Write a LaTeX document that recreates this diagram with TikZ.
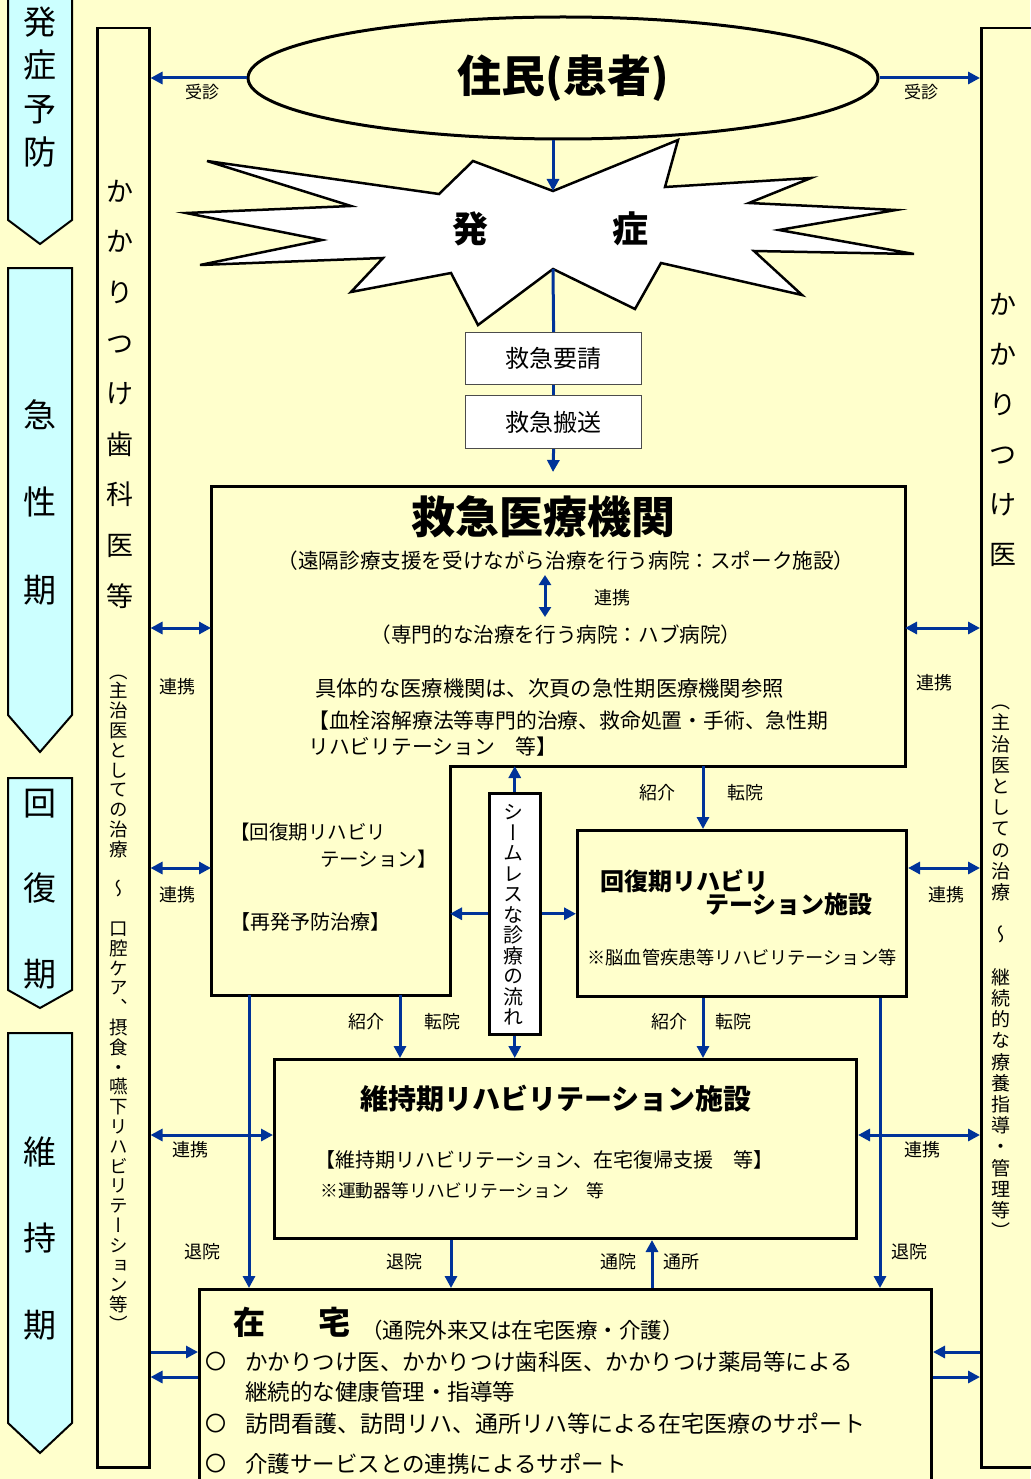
\documentclass[tikz,border=0pt]{standalone}
\usepackage{fontspec}
\setmainfont{Noto Sans CJK JP}
\newfontfamily\jpv[RawFeature=+vert]{Noto Sans CJK JP}
\usetikzlibrary{arrows.meta,shapes.geometric}
\definecolor{bg}{RGB}{255,255,204}
\definecolor{cyanf}{RGB}{204,255,255}
\definecolor{ablue}{RGB}{0,51,153}
\ExplSyntaxOn
\NewDocumentCommand\vstack{mm}{
  \vbox{\baselineskip=#1\relax\lineskiplimit=-\maxdimen\lineskip=0pt
    \tl_map_inline:nn{#2}{\hbox_to_wd:nn{1em}{\hss##1\hss}}}
}
\ExplSyntaxOff
\newcommand\fsz[1]{\fontsize{#1}{1.3\dimexpr#1pt\relax}\selectfont}
\tikzset{
  box/.style={draw=black, line width=3pt, fill=bg, anchor=north west, inner sep=0pt},
  colbox/.style={draw=black, line width=2.5pt, fill=bg, anchor=north west, inner sep=0pt},
  wbox/.style={draw=black!70, line width=1.2pt, fill=white, anchor=north west, inner sep=0pt},
  phasearrow/.style={draw=black, line width=2pt, fill=cyanf},
  arr/.style={draw=ablue, line width=3pt, -{Triangle[length=12pt,width=12pt]}},
  darr/.style={draw=ablue, line width=3pt, {Triangle[length=12pt,width=12pt]}-{Triangle[length=12pt,width=12pt]}},
  lbl/.style={font=\fsz{18}, inner sep=0pt},
  txt/.style={inner sep=0pt, anchor=west, align=left},
  ctxt/.style={inner sep=0pt, anchor=center},
}
\begin{document}
\begin{tikzpicture}[x=1pt,y=-1pt]
\fill[bg] (0,0) rectangle (1030,1479);
\useasboundingbox (0,0) rectangle (1030,1479);

% phase arrows
\draw[phasearrow] (8,-10) -- (72,-10) -- (72,220) -- (40,244) -- (8,220) -- cycle;
\draw[phasearrow] (8,268) -- (72,268) -- (72,715) -- (40,752) -- (8,715) -- cycle;
\draw[phasearrow] (8,778) -- (72,778) -- (72,990) -- (40,1008) -- (8,990) -- cycle;
\draw[phasearrow] (8,1033) -- (72,1033) -- (72,1423) -- (40,1453) -- (8,1423) -- cycle;
\node[ctxt, font=\fsz{33}] (ph1) at (40,87) {\vstack{43.5pt}{発症予防}};
\node[ctxt, font=\fsz{33}] (ph2) at (40,502) {\vstack{87.5pt}{急性期}};
\node[ctxt, font=\fsz{33}] (ph3) at (40,889) {\vstack{85.5pt}{回復期}};
\node[ctxt, font=\fsz{33}] (ph4) at (40,1238) {\vstack{86.5pt}{維持期}};

% side columns
\node[colbox, minimum width=52pt, minimum height=1439pt] (lcol) at (96,27) {};
\node[colbox, minimum width=70pt, minimum height=1439pt] (rcol) at (980,27) {};
\node[ctxt, font=\fsz{27}] (lcolt1) at (120,394) {\vstack{50.6pt}{かかりつけ歯科医等}};
\node[ctxt, font=\fsz{18.5}\jpv] (lcolt2) at (119,1003) {\vstack{19.8pt}{（主治医としての治療　～　口腔ケア、摂食・嚥下リハビリテーション等）}};
\node[ctxt, font=\fsz{27}] (rcolt1) at (1003,430) {\vstack{50pt}{かかりつけ医}};
\node[ctxt, font=\fsz{19}\jpv] (rcolt2) at (1001,972) {\vstack{21.2pt}{（主治医としての治療　～　継続的な療養指導・管理等）}};

% residents
\node[ellipse, draw=black, line width=3pt, fill=bg, minimum width=630pt, minimum height=122pt, inner sep=0pt, font=\fsz{44}\bfseries] (jumin) at (563,78) {住民(患者)};

% starburst
\coordinate (S4) at (553,191);
\coordinate (S16) at (553,269);
\draw[black, line width=2.5pt, fill=white, line join=miter]
  (207,161) -- (439,194) -- (473,161) -- (S4) -- (678,140) -- (665,187) -- (811,178) -- (749,203) -- (896,210) -- (779,230) -- (914,254) -- (754,251) -- (802,295) -- (661,263) -- (635,309) -- (S16) -- (478,325) -- (451,273) -- (351,292) -- (383,258) -- (200,265) -- (322,240) -- (186,213) -- (351,206) -- cycle;
\node[ctxt, font=\fsz{36}\bfseries] (ha) at (470,229) {発};
\node[ctxt, font=\fsz{36}\bfseries] (sho) at (630,229) {症};

% emergency request boxes
\node[wbox, minimum width=176pt, minimum height=52pt] (q1) at (465,332) {};
\node[ctxt, font=\fsz{24}] (q1t) at (q1.center) {救急要請};
\node[wbox, minimum width=176pt, minimum height=53pt] (q2) at (465,395) {};
\node[ctxt, font=\fsz{24}] (q2t) at (q2.center) {救急搬送};
\coordinate (kq) at (553,472);

% emergency institution polygon
\coordinate (E1) at (211,486);
\coordinate (E2) at (905,486);
\coordinate (E3) at (905,766);
\coordinate (E4) at (450,766);
\coordinate (E5) at (450,995);
\coordinate (E6) at (211,995);
\draw[black, line width=3pt, fill=bg] (E1) -- (E2) -- (E3) -- (E4) -- (E5) -- (E6) -- cycle;
\node[ctxt, font=\fsz{44}\bfseries] (kyu) at (543,517) {救急医療機関};
\node[ctxt, font=\fsz{20.6}] (spoke) at (566,561) {（遠隔診療支援を受けながら治療を行う病院：スポーク施設）};
\node[ctxt, font=\fsz{20.6}] (hub) at (556,635) {（専門的な治療を行う病院：ハブ病院）};
\node[txt, font=\fsz{21.3}] (gutai) at (315,688) {具体的な医療機関は、次頁の急性期医療機関参照};
\node[txt, font=\fontsize{20.8}{26}\selectfont] (kessen) at (308,734) {【血栓溶解療法等専門的治療、救命処置・手術、急性期\\リハビリテーション　等】};
\node[txt, font=\fontsize{19.5}{27}\selectfont] (kaifukuL) at (230,846) {【回復期リハビリ\\\hspace*{90pt}テーション】};
\node[txt, font=\fsz{20}] (saihatsu) at (230,922) {【再発予防治療】};
\coordinate (sp1) at (545,575);
\coordinate (sp2) at (545,617);
\node[lbl] (renkei0) at (612,598) {連携};

% recovery facility
\node[box, minimum width=329pt, minimum height=166pt] (rec) at (576,829) {};
\node[txt, font=\fontsize{24}{23}\selectfont\bfseries] (rect) at (600,893) {回復期リハビリ\\\hspace*{105pt}テーション施設};
\node[ctxt, font=\fsz{18.2}] (recs) at (742,958) {※脳血管疾患等リハビリテーション等};

% seamless box
\node[wbox, draw=black, line width=2.5pt, minimum width=51pt, minimum height=241pt] (seam) at (488,792) {};
\node[ctxt, font=\fsz{20}\jpv] (seamt) at (513,915) {\vstack{20.5pt}{シームレスな診療の流れ}};

% maintenance facility
\node[box, minimum width=582pt, minimum height=179pt] (iji) at (273,1058) {};
\node[ctxt, font=\fsz{28}\bfseries] (ijit) at (556,1099) {維持期リハビリテーション施設};
\node[txt, font=\fsz{20}] (ijit2) at (315,1160) {【維持期リハビリテーション、在宅復帰支援　等】};
\node[txt, font=\fsz{17.8}] (ijit3) at (320,1191) {※運動器等リハビリテーション　等};

% home
\node[box, minimum width=732pt, minimum height=230pt] (zai) at (198,1288) {};
\node[txt, font=\fsz{32}\bfseries] (zai1) at (233,1322) {在};
\node[txt, font=\fsz{32}\bfseries] (zai2) at (318,1322) {宅};
\node[txt, font=\fsz{21.5}] (zai3) at (361,1330) {（通院外来又は在宅医療・介護）};
\node[ctxt, font=\fsz{21}] (o1) at (216,1362) {〇};
\node[ctxt, font=\fsz{21}] (o2) at (216,1424) {〇};
\node[ctxt, font=\fsz{21}] (o3) at (216,1464) {〇};
\node[txt, font=\fontsize{22.5}{30}\selectfont] (z1) at (245,1377) {かかりつけ医、かかりつけ歯科医、かかりつけ薬局等による\\継続的な健康管理・指導等};
\node[txt, font=\fsz{23}] (z2) at (245,1424) {訪問看護、訪問リハ、通所リハ等による在宅医療のサポート};
\node[txt, font=\fsz{22.5}] (z3) at (245,1464) {介護サービスとの連携によるサポート};

% helper coordinates
\coordinate (c249) at (249,0);
\coordinate (c400) at (400,0);
\coordinate (c451) at (451,0);
\coordinate (c652) at (652,0);
\coordinate (c703) at (703,0);
\coordinate (c880) at (880,0);
\coordinate (y628) at (0,628);
\coordinate (y868) at (0,868);
\coordinate (y1135) at (0,1135);
\coordinate (y1352) at (0,1352);
\coordinate (y1377) at (0,1377);

% connectors
\draw[arr] (jumin.west) -- (jumin.west -| lcol.east);
\draw[arr] (jumin.east) -- (jumin.east -| rcol.west);
\draw[arr] (jumin.south -| S4) -- (S4);
\draw[ablue, line width=3pt] (S16) -- (q1.north);
\draw[ablue, line width=3pt] (q1.south) -- (q2.north);
\draw[arr] (q2.south) -- (kq);
\draw[darr, {Triangle[length=10pt,width=12pt]}-{Triangle[length=10pt,width=12pt]}] (sp1) -- (sp2);

\draw[arr] (seam.north) -- (seam.north |- E4);
\draw[arr] (seam.south) -- (seam.south |- iji.north);
\draw[arr] (seam.west) -- (seam.west -| E4);
\draw[arr] (seam.east) -- (seam.east -| rec.west);

\draw[arr] (c703 |- E3) -- (c703 |- rec.north);
\draw[arr] (c400 |- E5) -- (c400 |- iji.north);
\draw[arr] (c703 |- rec.south) -- (c703 |- iji.north);
\draw[arr] (c249 |- E6) -- (c249 |- zai.north);
\draw[arr] (c880 |- rec.south) -- (c880 |- zai.north);
\draw[arr] (c451 |- iji.south) -- (c451 |- zai.north);
\draw[arr] (c652 |- zai.north) -- (c652 |- iji.south);

\draw[darr] (lcol.east |- y628) -- (E1 |- y628);
\draw[darr] (E2 |- y628) -- (rcol.west |- y628);
\draw[darr] (lcol.east |- y868) -- (E6 |- y868);
\draw[darr] (rec.east |- y868) -- (rcol.west |- y868);
\draw[darr] (lcol.east |- y1135) -- (iji.west |- y1135);
\draw[darr] (iji.east |- y1135) -- (rcol.west |- y1135);

\draw[arr] (lcol.east |- y1352) -- (zai.west |- y1352);
\draw[arr] (zai.west |- y1377) -- (lcol.east |- y1377);
\draw[arr] (rcol.west |- y1352) -- (zai.east |- y1352);
\draw[arr] (zai.east |- y1377) -- (rcol.west |- y1377);

% labels
\node[lbl, font=\fsz{17}] (jl) at (202,92) {受診};
\node[lbl, font=\fsz{17}] (jr) at (921,92) {受診};
\node[lbl] (rl1) at (177,687) {連携};
\node[lbl] (rl2) at (177,895) {連携};
\node[lbl] (rl3) at (190,1150) {連携};
\node[lbl] (rr1) at (934,683) {連携};
\node[lbl] (rr2) at (946,895) {連携};
\node[lbl] (rr3) at (922,1150) {連携};
\node[lbl] (s1) at (657,793) {紹介};
\node[lbl] (t1) at (745,793) {転院};
\node[lbl] (s2) at (366,1022) {紹介};
\node[lbl] (t2) at (442,1022) {転院};
\node[lbl] (s3) at (669,1022) {紹介};
\node[lbl] (t3) at (733,1022) {転院};
\node[lbl] (d1) at (202,1252) {退院};
\node[lbl] (d2) at (909,1252) {退院};
\node[lbl] (d3) at (404,1262) {退院};
\node[lbl] (v1) at (618,1262) {通院};
\node[lbl] (v2) at (681,1262) {通所};
\end{tikzpicture}
\end{document}
